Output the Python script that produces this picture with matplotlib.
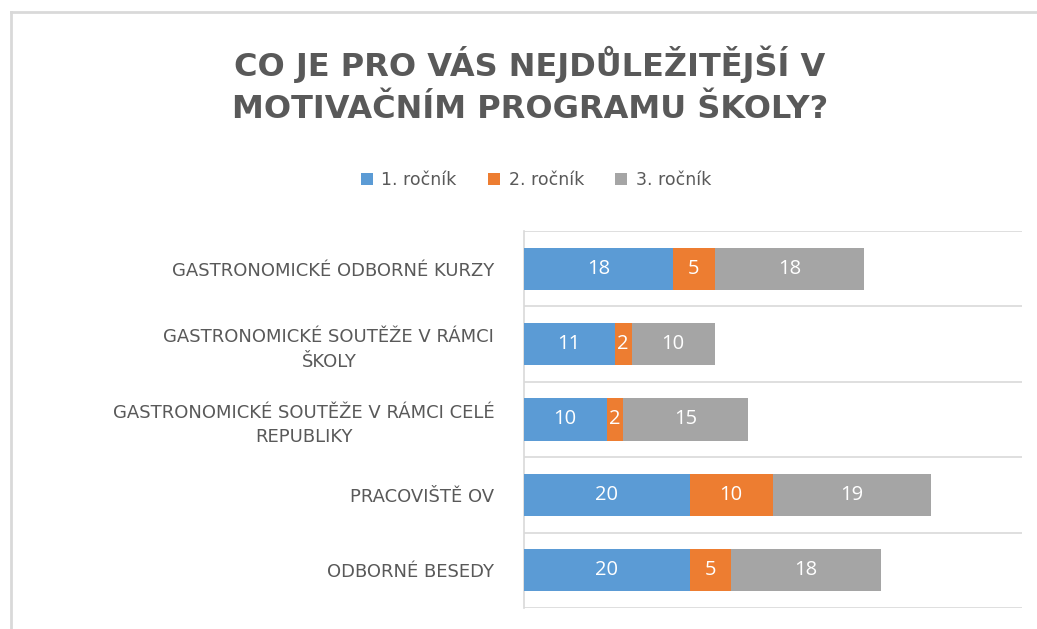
import matplotlib
matplotlib.use("Agg")
import matplotlib.pyplot as plt
from matplotlib.lines import Line2D
import numpy as np

plt.rcParams['font.family'] = ['DejaVu Sans']

categories = ["GASTRONOMICKÉ ODBORNÉ KURZY",
              "GASTRONOMICKÉ SOUTĚŽE V RÁMCI\nŠKOLY",
              "GASTRONOMICKÉ SOUTĚŽE V RÁMCI CELÉ\nREPUBLIKY",
              "PRACOVIŠTĚ OV",
              "ODBORNÉ BESEDY"]
series_names = ["1. ročník", "2. ročník", "3. ročník"]
rocnik1 = [18, 11, 10, 20, 20]
rocnik2 = [5, 2, 2, 10, 5]
rocnik3 = [18, 10, 15, 19, 18]
colors = ["#5B9BD5", "#ED7D31", "#A5A5A5"]
textcol = "#595959"
gridcol = "#D9D9D9"

W, H = 1037, 629
fig = plt.figure(figsize=(W/100, H/100), dpi=100)
ax = fig.add_axes([523.5/W, 1-608/H, (1022-523.5)/W, (608-231)/H])

y = np.arange(len(categories))
left = np.zeros(len(categories))
for vals, name, c in zip([rocnik1, rocnik2, rocnik3], series_names, colors):
    bars = ax.barh(y, vals, left=left, height=0.56, color=c, label=name, zorder=3)
    ax.bar_label(bars, labels=[str(v) for v in vals], label_type='center',
                 color='white', fontsize=14.5, family='Open Sans')
    left += np.array(vals)

ax.set_xlim(0, 60)
ax.set_ylim(len(categories)-0.5, -0.5)
ax.set_yticks(y)
ax.set_yticklabels(categories, fontsize=13, color=textcol, multialignment='center')
for lab in ax.get_yticklabels():
    lab.set_linespacing(1.5)
ax.set_yticks(np.arange(-0.5, len(categories), 1.0), minor=True)
ax.tick_params(axis='y', which='both', length=0, pad=21)
ax.set_xticks([])
ax.grid(axis='y', which='minor', color=gridcol, linewidth=1.2, zorder=0)
for s in ['top', 'right', 'bottom']:
    ax.spines[s].set_visible(False)
ax.spines['left'].set_color(gridcol)
ax.spines['left'].set_linewidth(1.2)

fig.text(530/W, 1-85/H, "CO JE PRO VÁS NEJDŮLEŽITĚJŠÍ V\nMOTIVAČNÍM PROGRAMU ŠKOLY?",
         ha='center', va='center', fontsize=23, fontweight='bold', color=textcol,
         linespacing=1.45)

fig.legend(loc='center', bbox_to_anchor=(536/W, 1-180/H), ncol=3, frameon=False,
           fontsize=12.5, labelcolor=textcol, handlelength=0.7, handleheight=0.7,
           handletextpad=0.5, columnspacing=1.8)

# chart frame (cut off on right and bottom)
fig.add_artist(Line2D([11/W, 11/W], [0, 1-12/H], color=gridcol, linewidth=2))
fig.add_artist(Line2D([11/W, 1], [1-12/H, 1-12/H], color=gridcol, linewidth=2))

fig.savefig("out.png", dpi=100)
